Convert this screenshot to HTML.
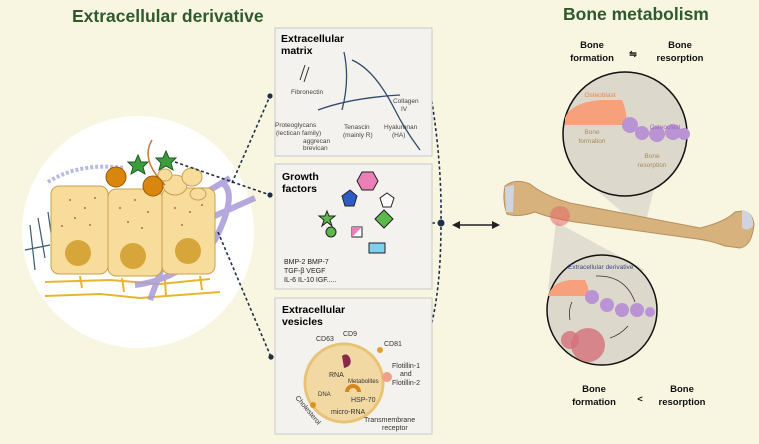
<!DOCTYPE html>
<html><head><meta charset="utf-8"><style>
html,body{margin:0;padding:0;background:#f8f5e1;}
svg{display:block;font-family:"Liberation Sans",sans-serif;}
.b{font-weight:bold;}
</style></head><body>
<svg width="759" height="444" viewBox="0 0 759 444" xmlns="http://www.w3.org/2000/svg">
<rect width="759" height="444" fill="#f8f5e1"/>
<text x="72" y="22" font-size="17.5" class="b" fill="#2f5a2c">Extracellular derivative</text>
<text x="563" y="20" font-size="17.5" class="b" fill="#2f5a2c">Bone metabolism</text>

<!-- left circle -->
<circle cx="138" cy="232" r="116" fill="#fff"/>
<g stroke="#e8b62e" stroke-width="2" fill="none">
<path d="M45 282 L110 280 L160 284 L210 279"/><path d="M45 296 L100 294 L140 298 L220 292"/>
<path d="M80 276 L82 288 M122 278 L124 292 M165 280 L166 296 M200 276 L202 290"/>
</g>
<g stroke="#a99ad6" stroke-width="6" fill="none" opacity="0.85">
<path d="M150 300 L165 260 L210 190 L230 178"/><path d="M220 182 Q240 190 215 240 Q180 280 135 285"/><path d="M210 218 L255 198"/>
</g>
<path d="M48 182 Q80 162 125 168" stroke="#b8bde0" stroke-width="4" stroke-dasharray="3 2" fill="none"/>
<g stroke="#3d5a70" stroke-width="1.2" fill="none">
<path d="M30 225 L35 270 M38 218 L45 258 M48 212 L52 240 M53 190 L55 215 M25 250 L50 245"/>
</g>
<g fill="#f7dc9c" stroke="#c9a24f" stroke-width="1">
<rect x="51" y="186" width="57" height="88" rx="8"/>
<rect x="108" y="189" width="54" height="87" rx="8"/>
<rect x="162" y="188" width="53" height="86" rx="8"/>
<ellipse cx="175" cy="185" rx="12" ry="10"/><ellipse cx="192" cy="177" rx="10" ry="9"/><ellipse cx="198" cy="194" rx="8" ry="6"/><ellipse cx="165" cy="175" rx="7" ry="6"/>
</g>
<g fill="#d7a63a"><circle cx="78" cy="253" r="13"/><circle cx="133" cy="256" r="13"/><circle cx="188" cy="251" r="13"/></g>
<g fill="#b0442e">
<circle cx="70" cy="200" r="0.9"/><circle cx="85" cy="208" r="0.9"/><circle cx="95" cy="198" r="0.9"/><circle cx="75" cy="218" r="0.9"/><circle cx="90" cy="225" r="0.9"/><circle cx="62" cy="226" r="0.9"/>
<circle cx="120" cy="208" r="0.9"/><circle cx="135" cy="200" r="0.9"/><circle cx="148" cy="212" r="0.9"/><circle cx="128" cy="222" r="0.9"/><circle cx="142" cy="228" r="0.9"/>
<circle cx="175" cy="208" r="0.9"/><circle cx="190" cy="212" r="0.9"/><circle cx="202" cy="205" r="0.9"/><circle cx="182" cy="225" r="0.9"/>
</g>
<path d="M165 185 Q140 160 152 140" stroke="#c57a3c" stroke-width="1.5" fill="none"/>
<g fill="#d8860e" stroke="#9a5a08"><circle cx="116" cy="177" r="10"/><circle cx="153" cy="186" r="10"/></g>
<g fill="#3d9c3e" stroke="#1d5a1d"><polygon points="138,155 141,162 148,162 143,167 145,174 138,170 131,174 133,167 128,162 135,162"/><polygon points="166,151 169,158 176,158 171,163 173,170 166,166 159,170 161,163 156,158 163,158"/></g>

<!-- dotted connectors -->
<g stroke="#1f2f4a" stroke-width="1.6" stroke-dasharray="3 2.5" fill="none">
<path d="M175 162 L270 195"/><path d="M232 183 L270 96"/><path d="M218 232 L271 357"/>
<path d="M430 90 Q442 160 441 223 Q441 290 430 330"/><path d="M432 223 L440 223"/>
</g>
<g fill="#1f2f4a"><circle cx="270" cy="96" r="2.6"/><circle cx="270" cy="195" r="2.6"/><circle cx="271" cy="357" r="2.6"/><circle cx="441" cy="223" r="3.5"/></g>
<path d="M455 225 L496 225" stroke="#222" stroke-width="1.6"/>
<polygon points="452,225 460,221 460,229" fill="#222"/><polygon points="500,225 492,221 492,229" fill="#222"/>

<!-- boxes -->
<g fill="#f3f2ef" stroke="#c9c9c9"><rect x="275" y="28" width="157" height="128"/><rect x="275" y="164" width="157" height="125"/><rect x="275" y="298" width="157" height="136"/></g>
<text x="281" y="42" font-size="10.5" class="b">Extracellular</text><text x="281" y="54" font-size="10.5" class="b">matrix</text>
<g stroke="#2f4a6a" stroke-width="1.3" fill="none"><path d="M344 52 Q350 80 342 110 M352 60 Q375 70 395 110 Q405 130 420 150 M318 110 Q350 98 400 95"/></g>
<path d="M300 80 L305 65 M304 82 L309 67" stroke="#333"/>
<g font-size="6.5" fill="#444">
<text x="291" y="94">Fibronectin</text><text x="393" y="103">Collagen</text><text x="401" y="111">IV</text>
<text x="275" y="127">Proteoglycans</text><text x="276" y="135">(lectican family)</text><text x="344" y="129">Tenascin</text><text x="343" y="137">(mainly R)</text><text x="384" y="129">Hyaluronan</text><text x="392" y="137">(HA)</text>
<text x="303" y="143">aggrecan</text><text x="303" y="150">brevican</text></g>

<text x="282" y="180" font-size="10.5" class="b">Growth</text><text x="282" y="192" font-size="10.5" class="b">factors</text>
<polygon points="357,181 362,172 373,172 378,181 373,190 362,190" fill="#ec7fb8" stroke="#222"/>
<polygon points="380,198 387,193 394,198 391,207 383,207" fill="#fff" stroke="#222"/>
<polygon points="342,196 350,190 357,196 354,206 345,206" fill="#2e5cc4" stroke="#222"/>
<polygon points="327,211 329,216 335,216 330,220 332,226 327,222 322,226 324,220 319,216 325,216" fill="#5cb84a" stroke="#222"/>
<polygon points="375,219 384,210 393,219 384,228" fill="#5cb84a" stroke="#222"/>
<circle cx="331" cy="232" r="5" fill="#5cb84a" stroke="#222"/>
<rect x="352" y="227" width="10" height="10" fill="#fff" stroke="#222"/><polygon points="352,227 362,227 352,237" fill="#ec7fb8"/>
<rect x="369" y="243" width="16" height="10" fill="#7fd0ef" stroke="#222"/>
<g font-size="7" fill="#222"><text x="284" y="264">BMP-2 BMP-7</text><text x="284" y="273">TGF-β  VEGF</text><text x="284" y="282">IL-6  IL-10   IGF.....</text></g>

<text x="282" y="313" font-size="10.5" class="b">Extracellular</text><text x="282" y="325" font-size="10.5" class="b">vesicles</text>
<circle cx="344" cy="383" r="39" fill="#f2d9a4" stroke="#e9c374" stroke-width="3"/>
<path d="M342 356 q5 -4 8 2 q3 8 -6 10 z" fill="#8a2a4a"/>
<path d="M345 392 a8 8 0 1 1 16 0 l-4 0 a4 4 0 1 0 -8 0z" fill="#d7861b"/>
<circle cx="387" cy="377" r="5" fill="#f0a08c"/><circle cx="380" cy="350" r="3" fill="#e0a030"/>
<circle cx="313" cy="405" r="3" fill="#d7961b"/>
<g font-size="7" fill="#333"><text x="316" y="341">CD63</text><text x="343" y="336">CD9</text><text x="384" y="346">CD81</text>
<text x="329" y="377">RNA</text><text x="348" y="383" font-size="6">Metabolites</text><text x="318" y="396" font-size="6">DNA</text><text x="351" y="402">HSP-70</text><text x="331" y="414">micro-RNA</text>
<text x="392" y="368">Flotillin-1</text><text x="400" y="376">and</text><text x="392" y="385">Flotillin-2</text>
<text x="364" y="422">Transmembrane</text><text x="382" y="430">receptor</text>
<text x="295" y="398" transform="rotate(50 295 398)">Cholesterol</text></g>

<!-- right side -->
<g font-size="9.5" class="b" fill="#111" text-anchor="middle">
<text x="592" y="48">Bone</text><text x="592" y="61">formation</text><text x="680" y="48">Bone</text><text x="680" y="61">resorption</text>
<text x="633" y="57" font-size="9">⇋</text>
<text x="594" y="392">Bone</text><text x="594" y="405">formation</text><text x="682" y="392">Bone</text><text x="682" y="405">resorption</text>
<text x="640" y="402">&lt;</text></g>

<polygon points="590,185 655,185 645,225 638,225" fill="#ddd8cc" opacity="0.85"/>
<polygon points="556,222 548,290 645,270" fill="#ddd8cc" opacity="0.85"/>
<!-- bone -->
<path d="M505 186 Q515 178 530 184 Q545 196 570 203 L700 228 Q725 222 735 212 Q752 208 754 224 Q752 246 740 248 L725 246 Q710 240 690 238 L575 222 Q550 218 535 212 Q518 218 507 214 Q502 200 505 186 Z" fill="#d7b27c" stroke="#b89060"/>
<path d="M505 187 L514 185 L513 212 L506 212Z" fill="#cfd4e0"/>
<path d="M742 210 Q754 212 753 226 Q748 232 742 228Z" fill="#cfd4e0"/>
<circle cx="560" cy="216" r="10" fill="#e46a6a" opacity="0.55"/>

<circle cx="625" cy="134" r="62" fill="#ddd8cc" stroke="#111" stroke-width="1.5"/>
<path d="M565 118 Q570 103 600 100 L622 100 Q628 114 626 125 L565 125Z" fill="#f6a07c"/>
<g fill="#b993d4"><circle cx="630" cy="125" r="8"/><circle cx="642" cy="133" r="7"/><circle cx="657" cy="134" r="8"/><circle cx="673" cy="132" r="8"/><circle cx="684" cy="134" r="6"/></g>
<g font-size="6.5" text-anchor="middle"><text x="600" y="97" fill="#e48a4a">Osteoblast</text><text x="665" y="129" fill="#9a6ab8">Osteoclast</text>
<text x="592" y="134" fill="#a88a5a">Bone</text><text x="592" y="143" fill="#a88a5a">formation</text><text x="652" y="158" fill="#a88a5a">Bone</text><text x="652" y="167" fill="#a88a5a">resorption</text></g>

<circle cx="602" cy="310" r="55" fill="#ddd8cc" stroke="#111" stroke-width="1.5"/>
<path d="M548 296 Q552 282 570 280 L585 280 Q590 290 588 296Z" fill="#f6a07c"/>
<g fill="#b993d4"><circle cx="592" cy="297" r="7"/><circle cx="607" cy="305" r="7"/><circle cx="622" cy="310" r="7"/><circle cx="637" cy="310" r="7"/><circle cx="650" cy="312" r="5"/></g>
<circle cx="588" cy="345" r="17" fill="#d4707a" opacity="0.8"/><circle cx="570" cy="340" r="9" fill="#d4707a" opacity="0.8"/>
<text x="568" y="269" font-size="6.5" fill="#3a4a8a">Extracellular derivative</text>
<path d="M596 276 Q625 275 635 302 M628 326 Q620 335 610 338 M570 320 Q568 310 572 302" stroke="#333" fill="none" stroke-width="0.8"/>
</svg>
</body></html>
